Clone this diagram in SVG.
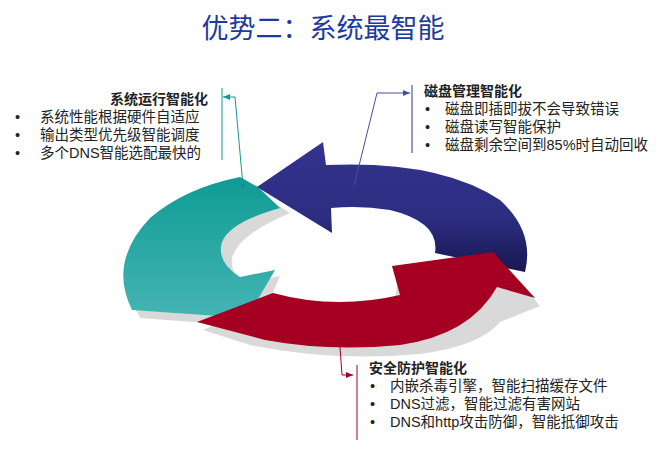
<svg xmlns="http://www.w3.org/2000/svg" width="668" height="452" viewBox="0 0 668 452">
<defs>
<linearGradient id="gt" x1="0" y1="0" x2="0" y2="1"><stop offset="0" stop-color="#0f9b94"/><stop offset="1" stop-color="#45b5b4"/></linearGradient>
<linearGradient id="gn" x1="0" y1="0" x2="0" y2="1"><stop offset="0" stop-color="#34338f"/><stop offset="0.6" stop-color="#2c2c80"/><stop offset="1" stop-color="#17174f"/></linearGradient>
<marker id="ah" markerWidth="8" markerHeight="8" refX="7" refY="4" orient="auto" markerUnits="userSpaceOnUse"><path d="M0,1 L7,4 L0,7 Z" fill="context-stroke"/></marker>
</defs>
<style>
text{font-family:"Liberation Sans","Noto Sans CJK SC",sans-serif;font-size:14.5px;fill:#222}
.h{font-weight:bold;font-size:14px}
.t{font-size:27px;fill:#1c3aa0}
.c{fill:none;stroke-width:1}
</style>
<rect width="668" height="452" fill="#fff"/>
<text class="t" x="323" y="38" text-anchor="middle">优势二：系统最智能</text>
<g id="shadow" fill="#d9d9d9">
<path d="M140,318 Q112,270 160,222 Q195,192 245,184 L290,213 Q238,235 232,258 Q230,275 247,283 L280,276 L258,327 Z"/>
<path d="M203,330 L270,300 Q325,317 395,297 L400,272 L500,258 L540,306 L500,322 Q480,346 420,354 Q330,362 250,345 Z"/>
</g>
<g id="teal">
<path fill="url(#gt)" d="M132,310 Q108,262 150,218 Q185,188 240,177 L258,187 L280,208 Q230,222 222,242 Q216,262 240,277 L275,270 L247,318 Z"/>
</g>
<g id="navy">
<path fill="url(#gn)" d="M257,187 L323,142 L326,165 Q440,160 500,200 Q535,232 525,272 L435,253 Q440,222 390,210 Q360,205 331,208 L332,233 Z"/>
</g>
<g id="red">
<path fill="#a50021" d="M197,322 L273,293 Q335,310 400,295 L392,266 L493,252 L535,298 L497,287 Q470,335 400,345 Q330,352 265,340 Z"/>
</g>
<g id="connectors">
<path class="c" stroke="#0f9b94" d="M243,186 L235,97 L223,97" marker-end="url(#ah)"/>
<line class="c" stroke="#0f9b94" x1="222" y1="88" x2="222" y2="160"/>
<circle cx="243" cy="186" r="2" fill="#0f8f88"/>
<path class="c" stroke="#4a4aa8" d="M354,186 L377,93 L410,93" marker-end="url(#ah)"/>
<line class="c" stroke="#34338f" x1="412" y1="85" x2="412" y2="153"/>
<circle cx="354" cy="186" r="2" fill="#34338f"/>
<path class="c" stroke="#a50021" d="M340,347 L342,375 L353,375" marker-end="url(#ah)"/>
<line class="c" stroke="#a50021" x1="357" y1="365" x2="357" y2="440"/>
</g>
<g id="n1">
<text class="h" x="208" y="104" text-anchor="end">系统运行智能化</text>
<text x="15" y="122">•</text><text x="40" y="122">系统性能根据硬件自适应</text>
<text x="15" y="140">•</text><text x="40" y="140">输出类型优先级智能调度</text>
<text x="15" y="158">•</text><text x="40" y="158">多个DNS智能选配最快的</text>
</g>
<g id="n2">
<text class="h" x="424" y="96">磁盘管理智能化</text>
<text x="425" y="114">•</text><text x="445" y="114">磁盘即插即拔不会导致错误</text>
<text x="425" y="132">•</text><text x="445" y="132">磁盘读写智能保护</text>
<text x="425" y="150">•</text><text x="445" y="150">磁盘剩余空间到85%时自动回收</text>
</g>
<g id="n3">
<text class="h" x="369" y="373">安全防护智能化</text>
<text x="370" y="391">•</text><text x="390" y="391">内嵌杀毒引擎，智能扫描缓存文件</text>
<text x="370" y="409">•</text><text x="390" y="409">DNS过滤，智能过滤有害网站</text>
<text x="370" y="427">•</text><text x="390" y="427">DNS和http攻击防御，智能抵御攻击</text>
</g>
</svg>
